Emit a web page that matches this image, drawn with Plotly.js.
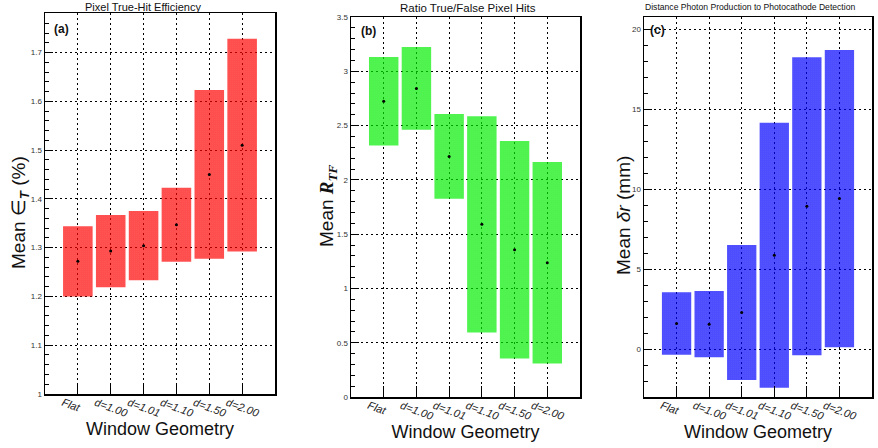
<!DOCTYPE html>
<html>
<head>
<meta charset="utf-8">
<script src="https://cdn.plot.ly/plotly-3.0.1.min.js"></script>
<style>html,body{margin:0;padding:0;background:#fff;}#chart{width:878px;height:448px;}</style>
</head>
<body>
<div id="chart"></div>
<script>
// ---- data ----
const categories = ['Flat', 'd=1.00', 'd=1.01', 'd=1.10', 'd=1.50', 'd=2.00'];

// (a) Pixel true-hit efficiency (%)
const effMean = [1.272, 1.293, 1.304, 1.347, 1.450, 1.510];
const effErr  = [0.072, 0.074, 0.071, 0.076, 0.173, 0.218];

// (b) Ratio true/false pixel hits
const ratioMean = [2.724, 2.842, 2.216, 1.591, 1.357, 1.236];
const ratioErr  = [0.407, 0.381, 0.390, 0.996, 1.002, 0.928];

// (c) Distance photon production to photocathode detection (mm)
const distMean = [1.625, 1.58, 2.31, 5.89, 8.95, 9.43];
const distErr  = [1.95, 2.07, 4.22, 8.28, 9.31, 9.29];

const panelTitles = ['Pixel True-Hit Efficiency', 'Ratio True/False Pixel Hits',
                     'Distance Photon Production to Photocathode Detection'];
const panelLabels = ['(a)', '(b)', '(c)'];
const yTitles = ['Mean ∈<sub><b><i>T</i></b></sub> (%)',
                 'Mean <b><i><span style="font-family:Liberation Serif">R</span></i></b><sub><b><i><span style="font-family:Liberation Serif">TF</span></i></b></sub>',
                 'Mean <i>δr</i> (mm)'];

// ---- build ----
const W = 878, H = 448;
const pos = categories.map((c, i) => i);
const FONT = 'Liberation Sans, Arial, sans-serif';

function bandTrace(mean, err, color, xa, ya) {
  return {
    type: 'bar', x: pos, base: mean.map((m, i) => m - err[i]), y: err.map(e => 2 * e),
    width: 0.9, xaxis: xa, yaxis: ya, hoverinfo: 'skip',
    marker: {color: color, line: {width: 0},
             pattern: {shape: '.', size: 2, solidity: 0.66, fgcolor: color, fillmode: 'replace'}},
    showlegend: false
  };
}
function meanTrace(mean, xa, ya) {
  return {type: 'scatter', mode: 'markers', x: pos, y: mean, xaxis: xa, yaxis: ya,
          marker: {color: '#000', size: 3}, showlegend: false};
}

const data = [
  bandTrace(effMean, effErr, '#ff0000', 'x', 'y'), meanTrace(effMean, 'x', 'y'),
  bandTrace(ratioMean, ratioErr, '#00ee00', 'x2', 'y2'), meanTrace(ratioMean, 'x2', 'y2'),
  bandTrace(distMean, distErr, '#0000ff', 'x3', 'y3'), meanTrace(distMean, 'x3', 'y3')
];

// pixel boxes for the three frames
const boxes = [
  {l: 45, r: 275, t: 13, b: 394},
  {l: 351, r: 580, t: 17, b: 397},
  {l: 644, r: 872, t: 17, b: 397}
];

function xAxis(bx) {
  return {
    domain: [bx.l / W, bx.r / W], range: [-1, 6],
    tickvals: pos, ticktext: categories, ticks: 'inside', ticklen: 11, tickwidth: 1, tickcolor: '#000',
    tickangle: 20, ticklabelshift: -15, ticklabelstandoff: -3,
    tickfont: {family: FONT, size: 11, style: 'italic', color: '#222'},
    showgrid: true, gridcolor: '#000', gridwidth: 1, griddash: '2px,3px',
    showline: true, linecolor: '#000', linewidth: 1.5, mirror: true, zeroline: false,
    title: {text: 'Window Geometry', font: {family: FONT, size: 18, color: '#111'}, standoff: 1},
    automargin: false
  };
}
function yAxis(bx, range, tick0, dtick, minor) {
  return {
    domain: [1 - bx.b / H, 1 - bx.t / H], range: range, tick0: tick0, dtick: dtick,
    ticks: 'inside', ticklen: 8, tickwidth: 1, tickcolor: '#000',
    minor: {dtick: minor, ticks: 'inside', ticklen: 4, tickcolor: '#000', showgrid: false},
    tickfont: {family: FONT, size: 8, color: '#333'},
    showgrid: true, gridcolor: '#000', gridwidth: 1, griddash: '2px,3px',
    showline: true, linecolor: '#000', linewidth: 1.5, mirror: true, zeroline: false,
    automargin: false
  };
}

const layout = {
  width: W, height: H, margin: {l: 0, r: 0, t: 0, b: 0},
  paper_bgcolor: '#fff', plot_bgcolor: 'rgba(0,0,0,0)',
  barmode: 'overlay', showlegend: false,
  xaxis: Object.assign(xAxis(boxes[0]), {anchor: 'y'}),
  xaxis2: Object.assign(xAxis(boxes[1]), {anchor: 'y2'}),
  xaxis3: Object.assign(xAxis(boxes[2]), {anchor: 'y3'}),
  yaxis: Object.assign(yAxis(boxes[0], [1, 1.781], 1, 0.1, 0.02), {anchor: 'x'}),
  yaxis2: Object.assign(yAxis(boxes[1], [0, 3.5], 0, 0.5, 0.1), {anchor: 'x2'}),
  yaxis3: Object.assign(yAxis(boxes[2], [-2.97, 20.78], 0, 5, 1), {anchor: 'x3'}),
  annotations: []
};

const titlePos = [{x: 143, y: 7, size: 11}, {x: 468, y: 8, size: 11.5}, {x: 750, y: 6.5, size: 8.6}];
const labelPos = [{x: 61, y: 29}, {x: 368, y: 31}, {x: 657, y: 30}];
const yTitlePos = [{x: 20, y: 213}, {x: 328, y: 206}, {x: 623, y: 216}];
panelTitles.forEach((t, i) => {
  layout.annotations.push({text: t, xref: 'paper', yref: 'paper', x: titlePos[i].x / W, y: 1 - titlePos[i].y / H,
    xanchor: 'center', yanchor: 'middle', showarrow: false, font: {family: FONT, size: titlePos[i].size, color: '#111'}});
  layout.annotations.push({text: '<b>' + panelLabels[i] + '</b>', xref: 'paper', yref: 'paper',
    x: labelPos[i].x / W, y: 1 - labelPos[i].y / H, xanchor: 'center', yanchor: 'middle', showarrow: false,
    font: {family: FONT, size: 12, color: '#111'}});
  layout.annotations.push({text: yTitles[i], textangle: -90, xref: 'paper', yref: 'paper',
    x: yTitlePos[i].x / W, y: 1 - yTitlePos[i].y / H, xanchor: 'center', yanchor: 'middle', showarrow: false,
    font: {family: FONT, size: 19, color: '#111'}});
});

Plotly.newPlot('chart', data, layout, {staticPlot: true, displayModeBar: false});
</script>
</body>
</html>
